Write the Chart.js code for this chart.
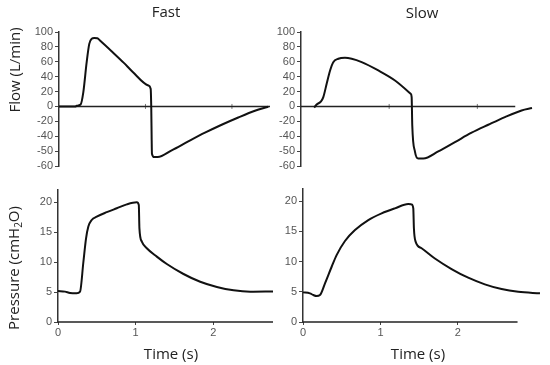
<!DOCTYPE html>
<html>
<head>
<meta charset="utf-8">
<script src="https://cdn.jsdelivr.net/npm/chart.js@4.4.1/dist/chart.umd.min.js"></script>
<style>
  html, body { margin: 0; padding: 0; background: #fff; }
  #wrap { position: relative; width: 550px; height: 365px; overflow: hidden; }
  .panel { position: absolute; left: 0; top: 0; width: 550px; height: 365px; }
  .lbl { position: absolute; font-family: "Open Sans", sans-serif; font-size: 15px; color: #222;
         white-space: nowrap; transform: translate(-50%, -50%); line-height: 1; }
  .rot { transform: translate(-50%, -50%) rotate(-90deg); }
  sub { font-size: 10px; vertical-align: -3px; }
</style>
</head>
<body>
<div id="wrap">
  <div class="panel"><canvas id="fastFlowChart"></canvas></div>
  <div class="panel"><canvas id="slowFlowChart"></canvas></div>
  <div class="panel"><canvas id="fastPresChart"></canvas></div>
  <div class="panel"><canvas id="slowPresChart"></canvas></div>
  <div class="lbl" style="left:166px; top:11px;">Fast</div>
  <div class="lbl" style="left:422px; top:12px;">Slow</div>
  <div class="lbl rot" style="left:14px; top:70px;">Flow (L/min)</div>
  <div class="lbl rot" style="left:14px; top:268px;">Pressure (cmH<sub>2</sub>O)</div>
  <div class="lbl" style="left:171px; top:353px;">Time (s)</div>
  <div class="lbl" style="left:418px; top:353px;">Time (s)</div>
</div>
<script>
// tick values and their labels
const flowTicks = [-80, -60, -40, -20, 0, 20, 40, 60, 80, 100];
const flowTickLabels = ['-60', '-50', '-40', '-20', '0', '20', '40', '60', '80', '100'];
const pressureTicks = [0, 5, 10, 15, 20];
const timeTicks = [0, 1, 2];

// fast inspiration: flow (L/min) against time (s)
const fastFlowTime = [0, 0.19, 0.204, 0.25, 0.281, 0.32, 0.35, 0.378, 0.408, 0.443, 0.474, 0.62, 0.75, 0.85, 1.033, 1.06, 1.067, 1.071, 1.075, 1.10, 1.141, 1.303, 1.495, 1.688, 1.881, 2.073, 2.266, 2.42];
const fastFlow = [0, 0, 0.9, 2.7, 19, 59.5, 84, 91, 92, 91.7, 88.6, 72.9, 58.5, 46.6, 28.2, 23.7, -3, -39, -63.5, -68, -68, -59, -47, -35.3, -24.6, -14.8, -5.8, -0.4];

// slow inspiration: flow
const slowFlowTime = [0.15, 0.178, 0.227, 0.253, 0.291, 0.329, 0.366, 0.423, 0.499, 0.575, 0.688, 0.877, 1.066, 1.244, 1.255, 1.262, 1.293, 1.33, 1.387, 1.557, 1.746, 1.935, 2.124, 2.313, 2.502, 2.62];
const slowFlow = [-1.5, 2.7, 6.7, 12.5, 30.4, 48, 59.5, 64, 65.3, 64, 59.5, 48.3, 34.9, 17, 12.5, -25.5, -61, -70, -70, -60.4, -47.9, -35.3, -24.6, -14.3, -5.4, -2.2];

// fast inspiration: pressure (cmH2O)
const fastPresTime = [0, 0.09, 0.155, 0.24, 0.284, 0.327, 0.361, 0.391, 0.434, 0.499, 0.628, 0.757, 0.886, 1.015, 1.041, 1.049, 1.08, 1.144, 1.273, 1.402, 1.617, 1.832, 2.047, 2.262, 2.477, 2.77];
const fastPres = [5.17, 5.06, 4.83, 4.78, 5.06, 10, 13.9, 15.9, 17, 17.55, 18.3, 18.95, 19.6, 19.94, 19.5, 15.6, 13.4, 12.3, 10.9, 9.67, 8, 6.7, 5.83, 5.28, 5.06, 5.1];

// slow inspiration: pressure
const slowPresTime = [0, 0.09, 0.133, 0.176, 0.219, 0.284, 0.37, 0.434, 0.542, 0.671, 0.843, 1.015, 1.187, 1.359, 1.402, 1.424, 1.432, 1.454, 1.531, 1.703, 1.918, 2.133, 2.348, 2.564, 2.779, 3.06];
const slowPres = [4.9, 4.74, 4.46, 4.3, 4.46, 6.4, 9.14, 11.07, 13.4, 15.2, 16.86, 17.97, 18.8, 19.5, 19.45, 18.8, 15.5, 13.3, 12.2, 10.5, 8.76, 7.33, 6.23, 5.45, 5.0, 4.74];

// where the drawn time axis line stops (s)
const axisEnd = { fastFlow: 2.44, slowFlow: 2.43, fastPres: 2.77, slowPres: 2.77 };

const tickFont = { family: '"Liberation Sans", Arial, sans-serif', size: 11 };
const tickColor = '#555';

function toPoints(xs, ys) {
    return xs.map((x, i) => ({ x: x, y: ys[i] }));
}

function makePanel(id, cfg) {
    const datasets = [
        // time axis line
        {
            data: [{ x: 0, y: 0 }, { x: cfg.axisEnd, y: 0 }],
            borderColor: '#222', borderWidth: 1.5, pointRadius: 0, clip: false, order: 2
        },
        {
            data: toPoints(cfg.time, cfg.values),
            borderColor: '#111', borderWidth: 2, pointRadius: 0,
            cubicInterpolationMode: 'monotone', clip: false, order: 1
        }
    ];
    if (cfg.flow) {
        // small tick marks on the zero line
        datasets.push({
            type: 'scatter',
            data: [{ x: 1, y: 0 }, { x: 2, y: 0 }],
            pointStyle: 'line', rotation: 90, pointRadius: 2.5,
            borderColor: '#777', borderWidth: 1, showLine: false, order: 3
        });
    }
    new Chart(document.getElementById(id), {
        type: 'line',
        data: { datasets: datasets },
        options: {
            responsive: true,
            maintainAspectRatio: false,
            animation: false,
            events: [],
            layout: { padding: cfg.padding },
            plugins: { legend: { display: false }, tooltip: { enabled: false } },
            scales: {
                x: {
                    type: 'linear',
                    display: !cfg.flow,
                    min: 0,
                    max: cfg.xMax,
                    afterFit: s => { s.height = cfg.flow ? 0 : 20; },
                    afterBuildTicks: s => { s.ticks = timeTicks.map(v => ({ value: v })); },
                    border: { display: false },
                    grid: { drawOnChartArea: false, drawTicks: true, tickLength: 3, color: '#444' },
                    ticks: { font: tickFont, color: tickColor, padding: 1, maxRotation: 0, autoSkip: false }
                },
                y: {
                    type: 'linear',
                    min: cfg.yMin,
                    max: cfg.yMax,
                    afterFit: s => { s.width = 30; },
                    afterBuildTicks: s => { s.ticks = cfg.yTicks.map(v => ({ value: v })); },
                    border: { display: true, color: '#333', width: 1.5 },
                    grid: { drawOnChartArea: false, drawTicks: true, tickLength: 4, color: '#444' },
                    ticks: {
                        font: tickFont, color: tickColor, padding: 2, autoSkip: false,
                        callback: (v, i) => cfg.yLabels ? cfg.yLabels[i] : String(v)
                    }
                }
            }
        }
    });
}

makePanel('fastFlowChart', {
    flow: true, time: fastFlowTime, values: fastFlow, axisEnd: axisEnd.fastFlow,
    xMax: 2.44, yMin: -80, yMax: 100, yTicks: flowTicks, yLabels: flowTickLabels,
    padding: { left: 29, right: 280, top: 32, bottom: 199 }
});
makePanel('slowFlowChart', {
    flow: true, time: slowFlowTime, values: slowFlow, axisEnd: axisEnd.slowFlow,
    xMax: 2.62, yMin: -80, yMax: 100, yTicks: flowTicks, yLabels: flowTickLabels,
    padding: { left: 271, right: 18, top: 32, bottom: 199 }
});
makePanel('fastPresChart', {
    flow: false, time: fastPresTime, values: fastPres, axisEnd: axisEnd.fastPres,
    xMax: 2.77, yMin: 0, yMax: 22, yTicks: pressureTicks, yLabels: null,
    padding: { left: 28, right: 277, top: 190, bottom: 23 }
});
makePanel('slowPresChart', {
    flow: false, time: slowPresTime, values: slowPres, axisEnd: axisEnd.slowPres,
    xMax: 3.06, yMin: 0, yMax: 22, yTicks: pressureTicks, yLabels: null,
    padding: { left: 273, right: 10, top: 189, bottom: 23 }
});
</script>
</body>
</html>
